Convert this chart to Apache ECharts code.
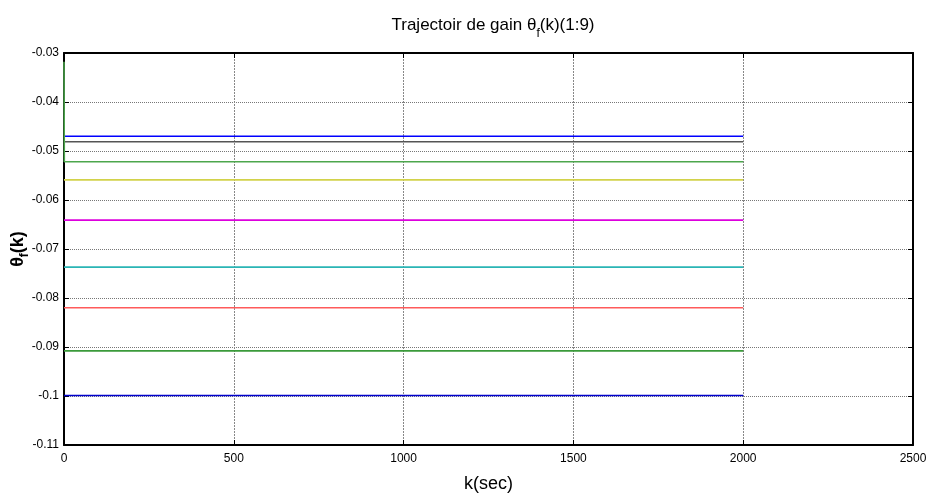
<!DOCTYPE html>
<html>
<head>
<meta charset="utf-8">
<script src="https://cdn.jsdelivr.net/npm/echarts@6/dist/echarts.min.js"></script>
<style>
html,body{margin:0;padding:0;background:#fff;}
#main{width:929px;height:499px;}
</style>
</head>
<body>
<div id="main"></div>
<script>
// ---- data ----
var kValues = [0, 2000];
var seriesNames = ['θ1','θ2','θ3','θ4','θ5','θ6','θ7','θ8','θ9'];
var theta1 = [-0.0470, -0.0470];
var theta2 = [-0.0481, -0.0481];
var theta3Start = [-0.0318];
var theta3 = [-0.0522, -0.0522];
var theta4 = [-0.0559, -0.0559];
var theta5 = [-0.0641, -0.0641];
var theta6 = [-0.0737, -0.0737];
var theta7 = [-0.0820, -0.0820];
var theta8 = [-0.0908, -0.0908];
var theta9 = [-0.0999, -0.0999];
var xTickLabels = ['0', '500', '1000', '1500', '2000', '2500'];
var yTickLabels = ['-0.11','-0.1','-0.09','-0.08','-0.07','-0.06','-0.05','-0.04','-0.03'];
var colors = ['#0000ff','#555555','#4ca64c','#d2d24a','#dd00dd','#2ab5b5','#ff5a5a','#3a9a3a','#0000cc'];

function pairs(xs, ys){ return xs.map(function(x,i){ return [x, ys[i]]; }); }

var allSeries = [theta1, theta2, theta3, theta4, theta5, theta6, theta7, theta8, theta9];
var series = allSeries.map(function(vals, i){
  var d = pairs(kValues, vals);
  if (i === 2) { d = [[0, theta3Start[0]], [1, vals[0]], [kValues[1], vals[1]]]; }
  return {
    name: seriesNames[i], type: 'line', data: d, showSymbol: false, symbol: 'none',
    lineStyle: { color: colors[i], width: 1.6 }, itemStyle: { color: colors[i] },
    animation: false, xAxisIndex: 0, yAxisIndex: 0
  };
});

var FONT = '"Liberation Sans Narrow", "Liberation Sans", Arial, sans-serif';
var yLabelFmt = function(v){
  var idx = Math.round((v + 0.11) / 0.01);
  return yTickLabels[idx] !== undefined ? yTickLabels[idx] : '';
};
var xLabelFmt = function(v){
  var idx = Math.round(v / 500);
  return xTickLabels[idx] !== undefined ? xTickLabels[idx] : '';
};

var chart = echarts.init(document.getElementById('main'), null, {renderer: 'canvas'});
chart.setOption({
  backgroundColor: '#ffffff',
  animation: false,
  title: {
    text: '{a|Trajectoir de gain θ}{s|f}{a|(k)(1:9)}',
    left: 488, top: 12, textAlign: 'center',
    textStyle: {
      fontWeight: 'normal',
      rich: {
        a: { fontFamily: FONT, fontSize: 17, fontWeight: 'normal', color: '#000', verticalAlign: 'bottom', padding: [0,0,6,0] },
        s: { fontFamily: FONT, fontSize: 12, fontWeight: 'normal', color: '#000', verticalAlign: 'bottom' }
      }
    }
  },
  grid: { left: 64, right: 16, top: 53, bottom: 54, containLabel: false, outerBoundsMode: 'none' },
  xAxis: [{
    type: 'value', min: 0, max: 2500, interval: 500,
    name: 'k(sec)', nameLocation: 'middle', nameGap: 30,
    nameTextStyle: { fontFamily: FONT, fontSize: 18, color: '#000' },
    axisLine: { show: true, onZero: false, lineStyle: { color: '#000', width: 2 } },
    axisTick: { show: true, inside: true, length: 5, lineStyle: { color: '#000' } },
    axisLabel: { fontFamily: FONT, fontSize: 12, color: '#000', margin: 8, formatter: xLabelFmt },
    splitLine: { show: true, lineStyle: { color: '#888', type: [2, 1], width: 1 } }
  }, {
    type: 'value', min: 0, max: 2500, interval: 500, position: 'top',
    axisLine: { show: true, onZero: false, lineStyle: { color: '#000', width: 2 } },
    axisTick: { show: true, inside: true, length: 5, lineStyle: { color: '#000' } },
    axisLabel: { show: false }, splitLine: { show: false }
  }],
  yAxis: [{
    type: 'value', min: -0.11, max: -0.03, interval: 0.01,
    name: '{t|θ}{s|f}{t|(k)}', nameLocation: 'middle', nameGap: 33, nameRotate: 90,
    nameMoveOverlap: false,
    nameTextStyle: {
      rich: {
        t: { fontFamily: FONT, fontSize: 18, fontWeight: 'bold', color: '#000', verticalAlign: 'bottom', padding: [0,0,4,0] },
        s: { fontFamily: FONT, fontSize: 12, fontWeight: 'bold', color: '#000', verticalAlign: 'bottom' }
      }
    },
    axisLine: { show: true, onZero: false, lineStyle: { color: '#000', width: 2 } },
    axisTick: { show: true, inside: true, length: 5, lineStyle: { color: '#000' } },
    axisLabel: { fontFamily: FONT, fontSize: 12, color: '#000', margin: 5, formatter: yLabelFmt },
    splitLine: { show: true, lineStyle: { color: '#777', type: [1, 1], width: 1 } }
  }, {
    type: 'value', min: -0.11, max: -0.03, interval: 0.01, position: 'right',
    axisLine: { show: true, onZero: false, lineStyle: { color: '#000', width: 2 } },
    axisTick: { show: true, inside: true, length: 5, lineStyle: { color: '#000' } },
    axisLabel: { show: false }, splitLine: { show: false }
  }],
  series: series
});
</script>
</body>
</html>
